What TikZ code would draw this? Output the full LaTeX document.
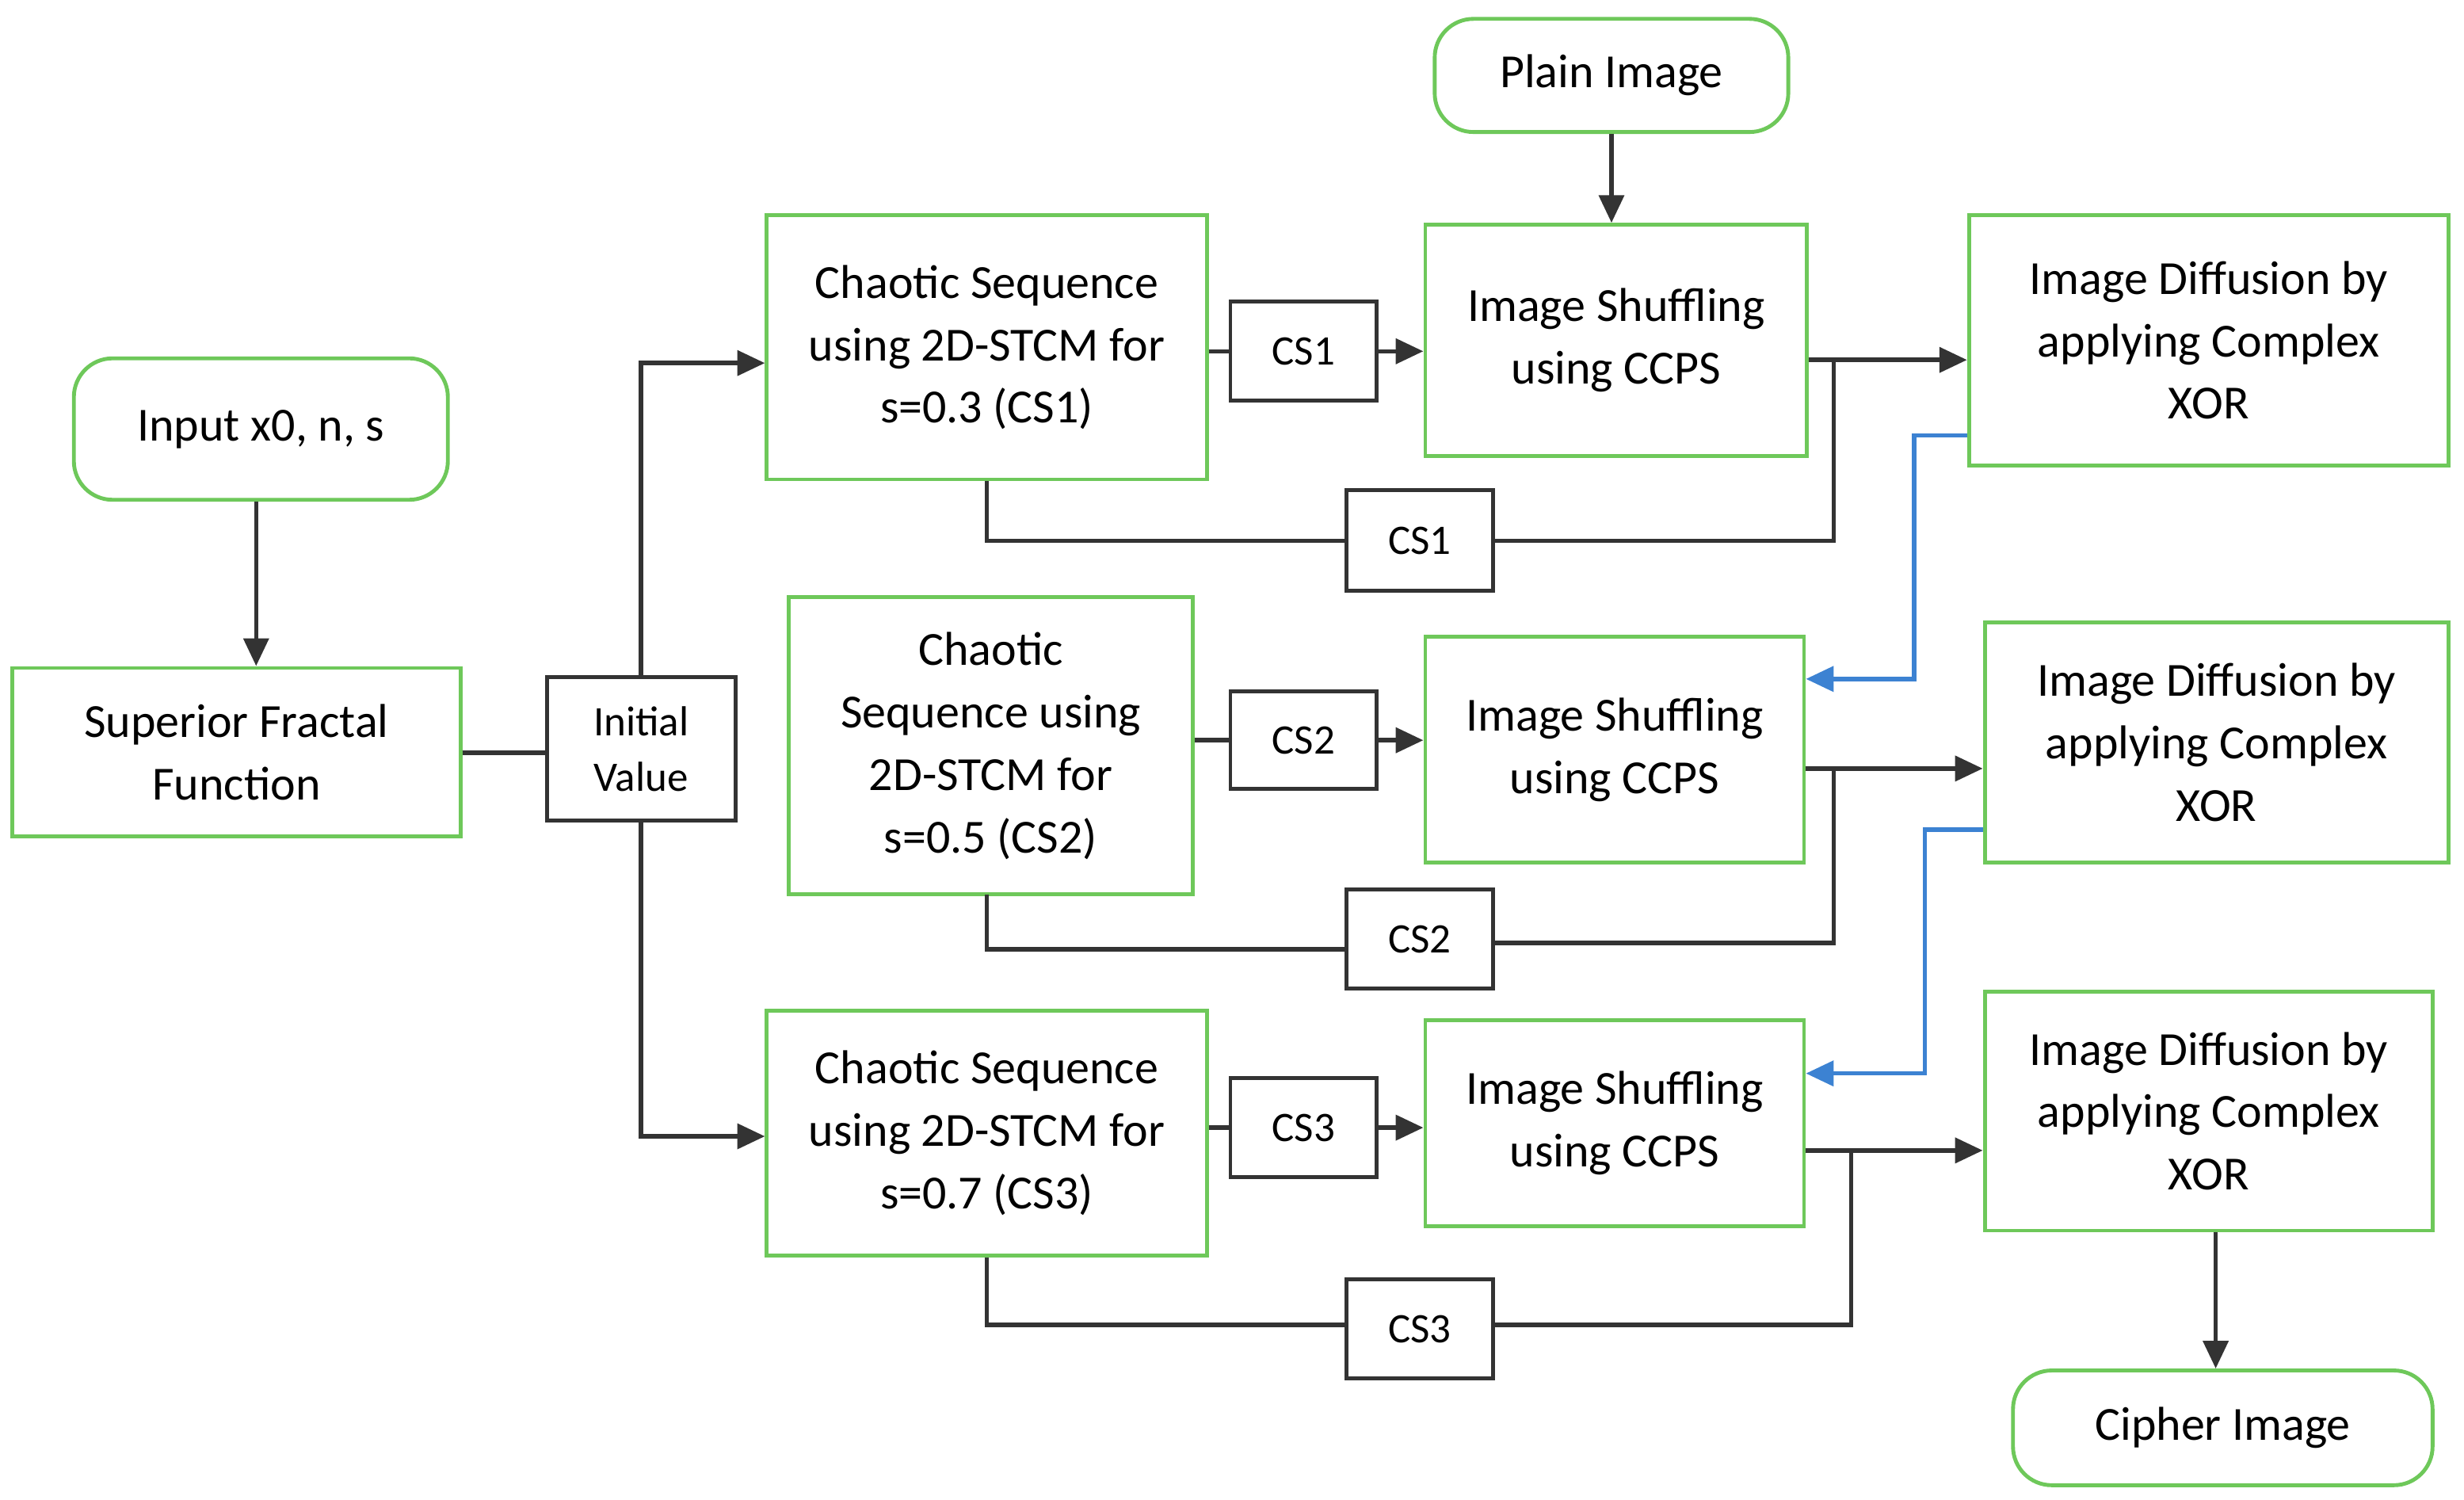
\documentclass[tikz,border=0pt]{standalone}
\usepackage{fontspec}
\setmainfont{Carlito}
\usetikzlibrary{arrows.meta}
\definecolor{gr}{RGB}{110,200,90}
\definecolor{bl}{RGB}{60,130,210}
\newcommand{\bx}[7]{\node[#6,minimum width={(#4-#2)*0.01cm},minimum height={(#5-#3)*0.01cm}] (#1) at ({(#2+#4)/2},{(#3+#5)/2}) {#7};}
\begin{document}
\begin{tikzpicture}[x=0.01cm,y=-0.01cm,
 g/.style={draw=gr,line width=0.7pt,inner sep=0pt,align=center,font=\fontsize{8.6}{11.3}\selectfont},
 gr/.style={g,rounded corners=7pt},
 k/.style={draw=black!80,line width=0.7pt,inner sep=0pt,align=center,font=\fontsize{7.6}{10}\selectfont},
 ln/.style={draw=black!80,line width=0.8pt},
 ar/.style={ln,-{Triangle[length=5pt,width=4.5pt]}},
 ba/.style={draw=bl,line width=0.8pt,-{Triangle[length=5pt,width=4.5pt]}}]
\useasboundingbox (0,0) rectangle (1568,954);
\bx{plain}{913}{12}{1138}{84}{gr}{Plain Image}
\bx{inp}{47}{228}{285}{318}{gr}{Input x0, n, s}
\bx{sup}{8}{425}{293}{532}{g}{Superior Fractal\\Function}
\bx{init}{348}{431}{468}{522}{k}{Initial\\Value}
\bx{c1}{488}{137}{768}{305}{g}{Chaotic Sequence\\using 2D-STCM for\\s=0.3 (CS1)}
\bx{s1}{783}{192}{876}{255}{k}{CS1}
\bx{sh1}{907}{143}{1150}{290}{g}{Image Shuffling\\using CCPS}
\bx{d1}{1253}{137}{1558}{296}{g}{Image Diffusion by\\applying Complex\\XOR}
\bx{b1}{857}{312}{950}{376}{k}{CS1}
\bx{c2}{502}{380}{759}{569}{g}{Chaotic\\Sequence using\\2D-STCM for\\s=0.5 (CS2)}
\bx{s2}{783}{440}{876}{502}{k}{CS2}
\bx{sh2}{907}{405}{1148}{549}{g}{Image Shuffling\\using CCPS}
\bx{d2}{1263}{396}{1558}{549}{g}{Image Diffusion by\\applying Complex\\XOR}
\bx{b2}{857}{566}{950}{629}{k}{CS2}
\bx{c3}{488}{643}{768}{799}{g}{Chaotic Sequence\\using 2D-STCM for\\s=0.7 (CS3)}
\bx{s3}{783}{686}{876}{749}{k}{CS3}
\bx{sh3}{907}{649}{1148}{780}{g}{Image Shuffling\\using CCPS}
\bx{d3}{1263}{631}{1548}{783}{g}{Image Diffusion by\\applying Complex\\XOR}
\bx{b3}{857}{814}{950}{877}{k}{CS3}
\bx{cip}{1281}{872}{1548}{945}{gr}{Cipher Image}
\draw[ar] (inp.south -| 163,0) -- (sup.north -| 163,0);
\draw[ln] (sup.east |- 0,479) -- (init.west |- 0,479);
\draw[ar] (init.north) |- (c1.west |- 0,231);
\draw[ar] (init.south) |- (c3.west |- 0,723);
\draw[ln] (c1.east |- s1) -- (s1);
\draw[ar] (s1) -- (sh1.west |- s1);
\draw[ln] (c2.east |- s2) -- (s2);
\draw[ar] (s2) -- (sh2.west |- s2);
\draw[ln] (c3.east |- s3) -- (s3);
\draw[ar] (s3) -- (sh3.west |- s3);
\draw[ar] (plain) -- (plain |- sh1.north);
\draw[ar] (sh1.east |- 0,229) -- (d1.west |- 0,229);
\draw[ar] (sh2.east |- 0,489) -- (d2.west |- 0,489);
\draw[ar] (sh3.east |- 0,732) -- (d3.west |- 0,732);
\draw[ln] (c1.south) |- (b1.west);
\draw[ln] (b1.east) -| (1167,229);
\draw[ln] (628,569) |- (b2.west |- 0,604);
\draw[ln] (b2.east |- 0,600) -| (1167,489);
\draw[ln] (c3.south) |- (b3.west |- 0,843);
\draw[ln] (b3.east |- 0,843) -| (1178,732);
\draw[ba] (d1.west |- 0,277) -- (1218,277) |- (sh2.east |- 0,432);
\draw[ba] (d2.west |- 0,528) -- (1225,528) |- (sh3.east |- 0,683);
\draw[ar] (d3.south -| 1410,0) -- (cip.north -| 1410,0);
\end{tikzpicture}
\end{document}
